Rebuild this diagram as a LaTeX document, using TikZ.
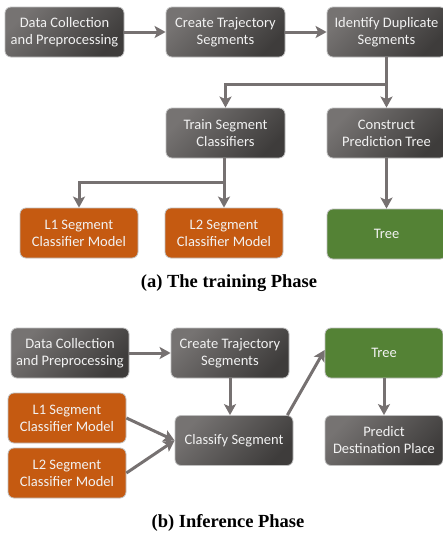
\documentclass[tikz,border=0pt]{standalone}
\usepackage{fontspec}
\setmainfont{Carlito}
\newfontfamily\capfont{Liberation Serif}
\usetikzlibrary{arrows.meta}
\definecolor{boxlight}{HTML}{767372}
\definecolor{boxdark}{HTML}{3E3C3B}
\definecolor{orng}{HTML}{C55A11}
\definecolor{grn}{HTML}{548235}
\definecolor{arrgray}{HTML}{767171}
\definecolor{bordergray}{HTML}{BFBFBF}
\tikzset{
  box/.style={rounded corners=6pt, draw=bordergray, line width=0.8pt,
    minimum width=119pt, minimum height=50pt, align=center,
    text=white!95!black, font=\fontsize{14.5}{17}\selectfont, inner sep=1pt},
  graybox/.style={box, top color=boxlight, bottom color=boxdark, shading angle=45},
  orangebox/.style={box, fill=orng, minimum width=118pt},
  greenbox/.style={box, fill=grn},
  arr/.style={draw=arrgray, line width=3pt, -{Stealth[length=11pt,width=12pt,inset=2.5pt]}},
  captext/.style={font=\capfont\bfseries\fontsize{18.5}{21}\selectfont}
}
\begin{document}
\begin{tikzpicture}[x=1pt,y=-1pt]
\useasboundingbox (0,0) rectangle (443,536);
% ---------- (a) training phase ----------
\node[graybox] (D1) at (64.5,32) {Data Collection\\and Preprocessing};
\node[graybox] (C1) at (225.5,32) {Create Trajectory\\Segments};
\node[graybox] (I1) at (386.5,32) {Identify Duplicate\\Segments};
\node[graybox] (T1) at (225.5,133) {Train Segment\\Classifiers};
\node[graybox] (P1) at (386.5,133) {Construct\\Prediction Tree};
\node[orangebox] (L1a) at (79,233) {L1 Segment\\Classifier Model};
\node[orangebox] (L2a) at (224,233) {L2 Segment\\Classifier Model};
\node[greenbox] (Tr1) at (386.5,234) {Tree};
\coordinate (b1) at (386.5,84);
\coordinate (b2) at (224,182);
\draw[arr] (D1.east) -- (C1.west);
\draw[arr] (C1.east) -- (I1.west);
\draw[arr] (I1.south) -- (P1.north);
\draw[arr] (b1) -| (T1.north);
\draw[arr] (T1.south -| L2a.north) -- (L2a.north);
\draw[arr] (b2) -| (L1a.north);
\draw[arr] (P1.south) -- (Tr1.north);
\node[captext] (capa) at (229,283) {(a) The training Phase};
% ---------- (b) inference phase ----------
\node[graybox, minimum width=118pt] (D2) at (70,353) {Data Collection\\and Preprocessing};
\node[graybox, minimum width=118pt] (C2) at (230,353) {Create Trajectory\\Segments};
\node[greenbox, minimum width=118pt] (Tr2) at (384,353) {Tree};
\node[orangebox] (L1b) at (67,418) {L1 Segment\\Classifier Model};
\node[orangebox] (L2b) at (67,473) {L2 Segment\\Classifier Model};
\node[graybox, minimum width=118pt] (CS) at (234,440.5) {Classify Segment};
\node[graybox, minimum width=118pt] (PD) at (384,440.5) {Predict\\Destination Place};
\draw[arr] (D2.east) -- (C2.west);
\draw[arr] (C2.south) -- (C2.south |- CS.north);
\draw[arr] (L1b.east) -- (CS.west);
\draw[arr] (L2b.east) -- (CS.west);
\draw[arr] ([xshift=-6pt]CS.north east) -- ([yshift=3pt]Tr2.west);
\draw[arr] (Tr2.south) -- (PD.north);
\node[captext] (capb) at (228,523) {(b) Inference Phase};
\end{tikzpicture}
\end{document}
